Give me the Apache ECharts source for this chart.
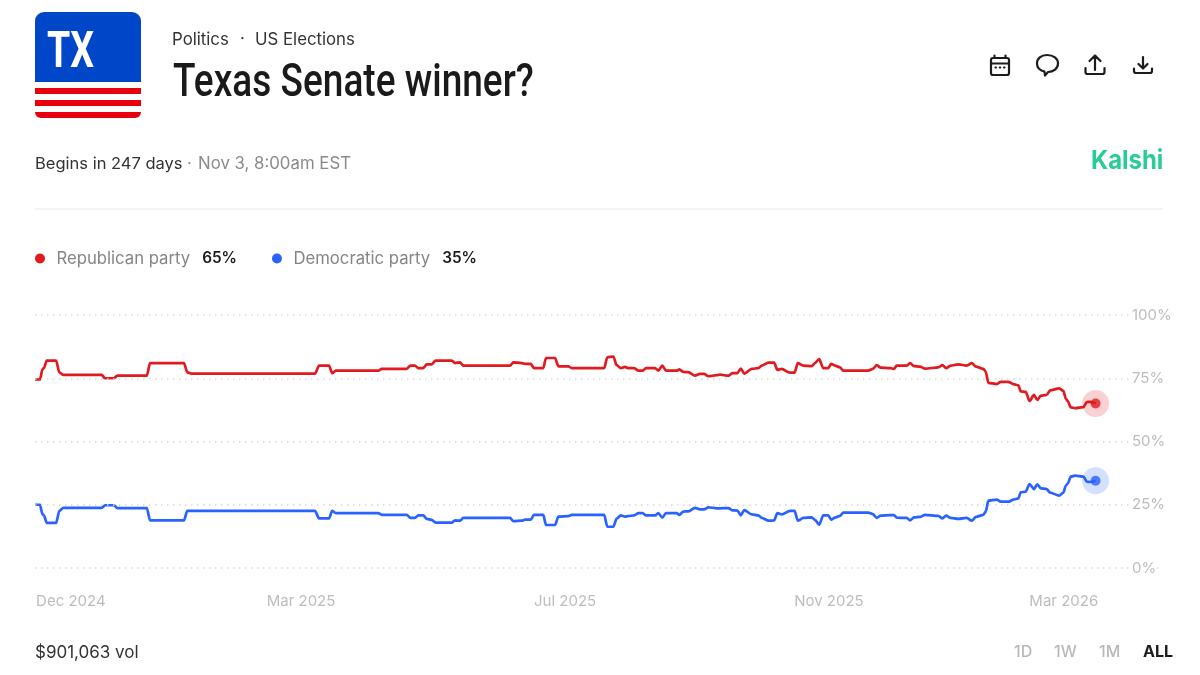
<!DOCTYPE html>
<html>
<head>
<meta charset="utf-8">
<title>Texas Senate winner?</title>
<script src="https://cdn.jsdelivr.net/npm/echarts@6/dist/echarts.min.js"></script>
<style>html,body{margin:0;padding:0;background:#fff}#c{width:1200px;height:675px}</style>
</head>
<body>
<div id="c"></div>
<script>
// Days since 30 Oct 2024
const days = [0,2.3,3.4,4.1,5.4,9.7,11.2,13.1,30.7,32.2,36.3,37.8,51.4,52.9,68.5,70,72,128.7,130.6,135.2,136.6,138.3,157.8,159.4,170.9,172.6,174.7,176.2,178.5,180.1,182.4,184.2,191.6,193.1,195.4,196.9,218.4,219.9,223.8,225.3,227.9,229.4,233.7,234.9,239.1,240.6,245.2,246.8,261.7,263.1,265.9,267.4,269.3,271.3,272.6,275.5,277.4,279.4,280.9,285.1,286.6,288.4,290.1,295,296.2,298.1,300.4,303.4,305.7,307.6,309.6,313.4,314.9,318.8,320.6,322.9,324.5,326.1,329.5,332.6,334.1,337.2,339.8,341.3,343.3,347.1,349.2,350.7,353.2,357.1,358.6,360.5,362.4,364.7,366,367.8,370.1,371.6,383.1,385.2,387,388.8,393.1,394.9,396.2,400.8,402.3,404.1,406.9,409.2,415.3,417.2,418.9,421,424.5,428.4,430.7,432.6,436,437.1,438.3,442.2,444,447.5,449.8,452.1,453.2,455.5,457.2,459.3,460.8,462.4,465.1,466.7,470.9,472.8,473.9,474.8,476.2,478.2,482,483.6,485.1,487.6];
const republican = [74.5,74.5,78.5,79,82,82,77.3,76.3,76.3,75,75,76,76,81,81,77.3,76.8,76.8,80,80,77,78,78,78.7,78.7,80,80,79,79,80.5,80.5,82,82,81,81.3,80,80,81.3,81,80.7,80.7,79,79,83,83,79.7,79.7,79,79,83.3,83.6,80.2,79,79.5,79,79,78,78,79,79,78,80,78,78,78.5,77.5,77.4,76,76.7,76.7,75.8,76.2,76.4,76,77,77,78.8,76.8,78.7,79,80,81.2,81.2,78.3,78.7,77.2,77.2,81,80,79.8,81,82.6,79,79,80.7,80,79.3,78,78,78.7,80.2,79.2,79,78.7,80,80,81,79.8,79.6,78.8,79.3,80.2,79,80,80.5,80,81,79.6,78.7,77.6,73.2,72.7,73.6,73.6,72.7,72.2,69.8,69.6,66,68.4,66.4,68.1,68.4,70.2,71,70,67,66,63.5,63.2,63.6,65.6,65.7,65];
const democratic = [25,25,21.3,20.8,17.8,17.8,22.6,23.8,23.8,24.8,24.8,23.7,23.7,18.8,18.8,22.6,22.6,22.6,19.6,19.6,22.6,21.7,21.7,21,21,19.8,19.8,20.8,20.8,19.4,19,17.9,17.9,18.8,18.7,19.8,19.8,18.5,18.7,19.1,19.1,21,21,17,17,20.3,20.5,21,21,16.3,16.3,19.5,20.8,20.3,20.5,20.8,21.7,21.7,20.8,20.8,21.7,19.9,21.7,21.7,21,22.3,22.4,23.8,23.2,23.2,24,23.6,23.6,23.7,22.8,22.7,20.8,22.9,21.2,20.8,19.8,18.7,18.8,21.7,21.2,22.6,22.6,18.7,19.8,20,19,17.1,20.8,20.8,19.1,19.9,20.6,21.9,21.9,21.3,19.8,20.7,20.9,20.9,19.9,19.8,18.8,20,20.2,21,20.6,19.6,20.7,19.8,19.4,19.8,18.7,20.2,21,22.3,26.6,27,26.2,26.2,27,27.5,29.9,30.2,33.2,31.2,33.1,31.5,31.2,29.8,28.6,29.8,32.5,33.4,36.1,36.5,36.1,34.1,34,34.5];
const xTickDays = [16.5,122.3,243.7,365,473];
const xTickLabels = ['Dec 2024','Mar 2025','Jul 2025','Nov 2025','Mar 2026'];
const seriesNames = ['Republican party','Democratic party'];
const latest = [65,35];

const RED='#e01a1f', BLUE='#2962ff', FONT='Inter, "Noto Sans", sans-serif';
const T=(text,x,y,o={})=>({type:'text',x,y,silent:true,style:Object.assign({text,fill:'#333',font:`400 16.8px ${FONT}`,verticalAlign:'middle'},o)});
const R=(x,y,w,h,fill,r=0)=>({type:'rect',silent:true,shape:{x,y,width:w,height:h,r},style:{fill}});
const iconData={
  calendar:'M993 58H1007Q1009 58 1009 60V73Q1009 75 1007 75H993Q991 75 991 73V60Q991 58 993 58Z M991 63.5H1009 M994.5 55.5V58 M1005.5 55.5V58 M995.5 67.5H996 M999.8 67.5H1000.2 M1004 67.5H1004.5',
  bubble:'M1047 55C1053.5 55 1058 58.6 1058 63.5C1058 68.5 1053.5 72 1048 72L1045 75.5L1044.5 71.6C1040 70.5 1037 67.5 1037 63.5C1037 58.6 1041 55 1047 55Z',
  upload:'M1095 70V55.5 M1089.5 61L1095 55.5L1100.5 61 M1085.5 68V72Q1085.5 74 1087.5 74H1102.5Q1104.5 74 1104.5 72V68',
  download:'M1143 57V68 M1138.5 64L1143 68.5L1147.5 64 M1134 68.5V71Q1134 73 1136 73H1150Q1152 73 1152 71V68.5'
};
Object.keys(iconData).forEach(k=>echarts.graphic.registerShape('icon_'+k,echarts.graphic.extendPath(iconData[k],{})));
const I=(k,lw=2.2)=>({type:'icon_'+k,silent:true,shape:{},style:{stroke:'#1c1c1c',fill:'none',lineWidth:lw,lineCap:'round',lineJoin:'round'}});

const graphics=[
  R(35,12,106,70,'#0046c8',[9,9,0,0]),
  R(35,88,106,6,'#e8000f'),
  R(35,100,106,6,'#e8000f'),
  R(35,112,106,6,'#e8000f',[0,0,8,8]),
  {type:'text',x:47,y:54,scaleX:0.75,silent:true,style:{text:'TX',fill:'#fff',font:`700 50px Roboto, ${FONT}`,verticalAlign:'middle'}},
  T('Politics',172,39.5),
  T('·',240,38.5),
  T('US Elections',255,39.5),
  {type:'text',x:173,y:84,scaleX:0.805,silent:true,style:{text:'Texas Senate winner?',fill:'#1a1a1a',font:`500 46px Roboto, ${FONT}`,verticalAlign:'middle'}},
  T('Begins in 247 days',35,164,{font:`400 16.5px ${FONT}`}),
  T('·',187,164,{fill:'#8a8a8a'}),
  T('Nov 3, 8:00am EST',198,164,{fill:'#8a8a8a'}),
  {type:'text',x:1091,y:161,scaleX:0.92,silent:true,style:{text:'Kalshi',fill:'#28cc95',font:`700 26px ${FONT}`,verticalAlign:'middle'}},
  {type:'line',silent:true,shape:{x1:35,y1:209,x2:1163,y2:209},style:{stroke:'#e8e8e8',lineWidth:1}},
  T('$901,063 vol',35,652.5,{font:`400 17px ${FONT}`}),
  T('1D',1014,652.5,{fill:'#b8b8b8',font:`500 16px ${FONT}`}),
  T('1W',1054,652.5,{fill:'#b8b8b8',font:`500 16px ${FONT}`}),
  T('1M',1099,652.5,{fill:'#b8b8b8',font:`500 16px ${FONT}`}),
  T('ALL',1143,652.5,{fill:'#1c1c1c',font:`700 16px ${FONT}`}),
  I('calendar'),I('bubble'),I('upload'),I('download')
];

const last=days.length-1;
const chart=echarts.init(document.getElementById('c'),null,{renderer:'canvas'});
chart.setOption({
  animation:false,
  backgroundColor:'#fff',
  textStyle:{fontFamily:FONT},
  graphic:graphics,
  grid:{left:35,right:37,top:315,bottom:107},
  legend:{
    left:35,top:250,padding:0,itemWidth:10,itemHeight:10,itemGap:35,icon:'circle',
    data:seriesNames,selectedMode:false,
    formatter:n=>`{n|${n}}{v|${latest[seriesNames.indexOf(n)]}%}`,
    textStyle:{rich:{
      n:{fontFamily:FONT,fontSize:16.7,color:'#858585',padding:[0,12,0,6.5]},
      v:{fontFamily:FONT,fontSize:15.3,fontWeight:600,color:'#1c1c1c'}
    }}
  },
  xAxis:{
    type:'value',min:0,max:518.6,
    axisLine:{show:false},axisTick:{show:false},splitLine:{show:false},
    axisLabel:{customValues:xTickDays,hideOverlap:false,margin:26,color:'#bdbdbd',fontSize:15,fontFamily:FONT,
      formatter:(v)=>xTickLabels[xTickDays.indexOf(v)]}
  },
  yAxis:{
    type:'value',min:0,max:100,interval:25,position:'right',
    axisLine:{show:false},axisTick:{show:false},
    splitLine:{lineStyle:{color:'#d8d8d8',width:1.5,type:[1.5,4.5]}},
    axisLabel:{margin:-33,align:'left',color:'#bdbdbd',fontSize:15,fontFamily:FONT,formatter:'{value}%',backgroundColor:'#fff',padding:[4,1,2,2]},
    z:5
  },
  series:[
    {name:seriesNames[0],type:'line',data:days.map((d,i)=>[d,republican[i]]),showSymbol:false,smooth:0.25,smoothMonotone:'x',color:RED,lineStyle:{color:RED,width:2.7},z:3},
    {name:seriesNames[1],type:'line',data:days.map((d,i)=>[d,democratic[i]]),showSymbol:false,smooth:0.25,smoothMonotone:'x',color:BLUE,lineStyle:{color:BLUE,width:2.7},z:3},
    {type:'scatter',silent:true,data:[[days[last],republican[last]]],symbolSize:27,itemStyle:{color:RED,opacity:0.2},z:2},
    {type:'scatter',silent:true,data:[[days[last],democratic[last]]],symbolSize:27,itemStyle:{color:BLUE,opacity:0.2},z:2},
    {type:'scatter',silent:true,data:[[days[last],republican[last]]],symbolSize:10,itemStyle:{color:RED},z:4},
    {type:'scatter',silent:true,data:[[days[last],democratic[last]]],symbolSize:10,itemStyle:{color:BLUE},z:4}
  ]
});
</script>
</body>
</html>
